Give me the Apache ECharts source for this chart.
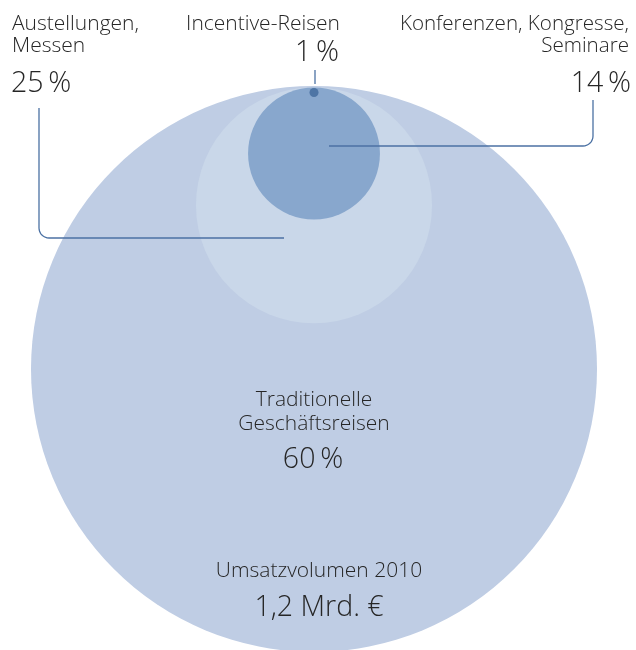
<!DOCTYPE html>
<html>
<head>
<meta charset="utf-8">
<script src="https://cdn.jsdelivr.net/npm/echarts@6/dist/echarts.min.js"></script>
<style>
  html, body { margin: 0; padding: 0; background: #fff; }
  #chart { width: 636px; height: 650px; }
</style>
</head>
<body>
<div id="chart"></div>
<script>
// segments of business travel revenue (nested circles, touching at the top)
const categories = ['Traditionelle\nGeschäftsreisen', 'Austellungen,\nMessen', 'Konferenzen, Kongresse,\nSeminare', 'Incentive-Reisen']
const shares = [60, 25, 14, 1]
// drawn radius of each circle, relative to the whole circle
const circleRadius = [1, 0.417, 0.233, 0.016]
const circleColors = ['#bfcde4', '#c9d7e9', '#88a7cd', '#4e75a5']
const totalLabel = 'Umsatzvolumen 2010'
const totalValue = '1,2 Mrd. €'

const pct = (v) => v + '\u2009%'
const textColor = '#262626'
const font = '"Open Sans", sans-serif'
const lineColor = '#4c72a4'

const chart = echarts.init(document.getElementById('chart'))

const txt = (text, x, y, size, align) => ({
    type: 'text',
    x,
    y,
    z: 100,
    style: {
        text,
        fill: textColor,
        font: `300 ${size}px ${font}`,
        textAlign: align,
        textVerticalAlign: 'middle',
    },
})

// elbow line: vertical from (x0,y0) down to y1, round corner, then horizontal to x1
const elbow = (x0, y0, y1, x1, rad) => {
    const dir = x1 > x0 ? 1 : -1
    const pts = [[x0, y0], [x0, y1 - rad]]
    for (let k = 1; k <= 8; k++) {
        const a = (k / 8) * Math.PI / 2
        pts.push([x0 + dir * rad * (1 - Math.cos(a)), y1 - rad + rad * Math.sin(a)])
    }
    pts.push([x1, y1])
    return {
        type: 'polyline',
        z: 100,
        shape: { points: pts },
        style: { fill: null, stroke: lineColor, lineWidth: 1.3 },
    }
}

const labelLines = (s) => s.split('\n')

chart.setOption({
    animation: false,
    grid: { left: 31, top: 88, width: 566, height: 566 },
    xAxis: { type: 'value', min: -1, max: 1, show: false },
    yAxis: { type: 'value', min: -1, max: 1, show: false },
    series: [
        {
            type: 'custom',
            coordinateSystem: 'cartesian2d',
            clip: false,
            silent: true,
            data: circleRadius.map((r, i) => [r, shares[i], i]),
            renderItem(params, api) {
                const r = api.value(0)
                const c = api.coord([0, 1 - r])
                const size = api.size([r, r])
                return {
                    type: 'circle',
                    shape: { cx: c[0], cy: c[1], r: size[0] },
                    style: { fill: circleColors[api.value(2)] },
                }
            },
        },
    ],
    graphic: [
        // left: Austellungen, Messen
        txt(labelLines(categories[1])[0], 12, 24, 21, 'left'),
        txt(labelLines(categories[1])[1], 12, 46, 21, 'left'),
        txt(pct(shares[1]), 11, 84, 28.5, 'left'),
        // top: Incentive-Reisen
        txt(categories[3], 263, 24, 21, 'center'),
        txt(pct(shares[3]), 317, 53, 28.5, 'center'),
        // right: Konferenzen
        txt(labelLines(categories[2])[0], 629, 24, 20.6, 'right'),
        txt(labelLines(categories[2])[1], 629, 46, 20.6, 'right'),
        txt(pct(shares[2]), 631, 84, 28.5, 'right'),
        // centre: Traditionelle Geschäftsreisen
        txt(labelLines(categories[0])[0], 314, 400, 21, 'center'),
        txt(labelLines(categories[0])[1], 314, 424, 21, 'center'),
        txt(pct(shares[0]), 313, 460, 28.5, 'center'),
        // total
        txt(totalLabel, 319, 571, 21, 'center'),
        txt(totalValue, 319, 608, 28.5, 'center'),
        // leader lines
        elbow(39, 108, 238, 284, 10),
        elbow(593, 100, 146, 329, 10),
        {
            type: 'line',
            z: 100,
            shape: { x1: 315, y1: 70, x2: 315, y2: 84 },
            style: { stroke: lineColor, lineWidth: 1.3 },
        },
    ],
})
</script>
</body>
</html>
